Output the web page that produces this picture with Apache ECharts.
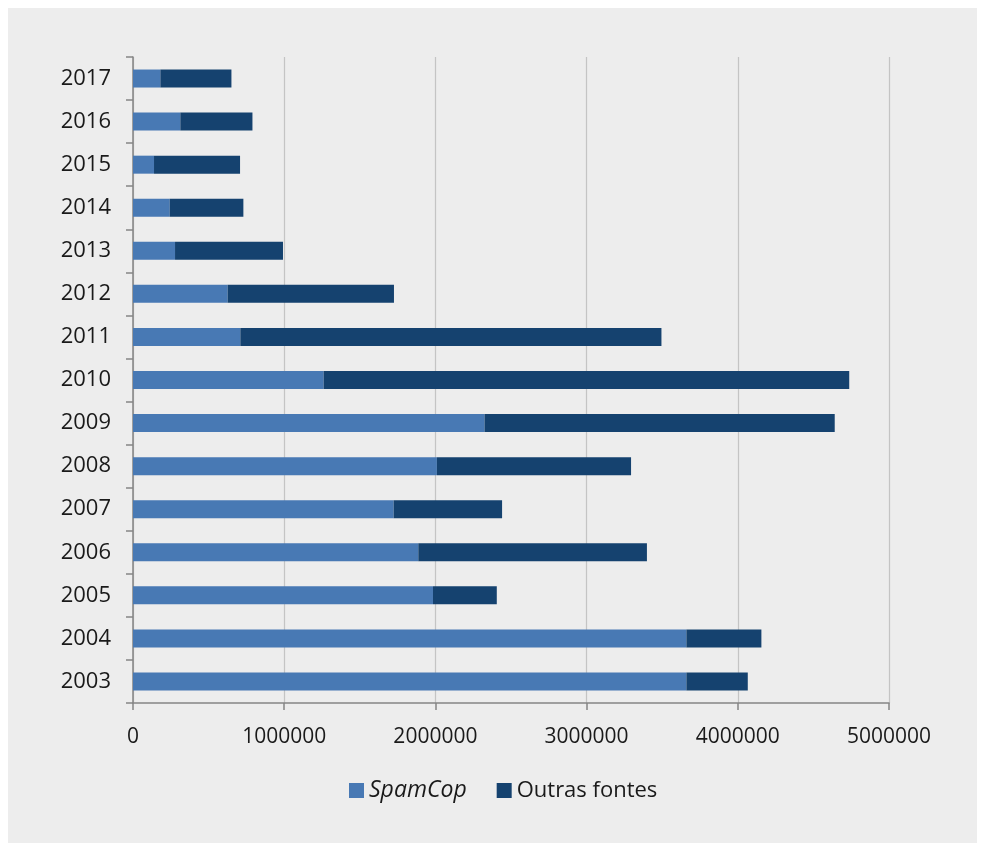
<!DOCTYPE html>
<html>
<head>
<meta charset="utf-8">
<title>SpamCop e outras fontes, 2003–2017</title>
<script src="https://cdn.jsdelivr.net/npm/echarts@6/dist/echarts.min.js"></script>
<style>
  html, body { margin: 0; padding: 0; background: #ffffff; }
  #chart { width: 983px; height: 847px; }
</style>
</head>
<body>
<div id="chart"></div>
<script>
// Years, bottom to top
const years = ['2003', '2004', '2005', '2006', '2007', '2008', '2009', '2010',
               '2011', '2012', '2013', '2014', '2015', '2016', '2017'];

// Reports from SpamCop
const spamCop = [3660000, 3660000, 1984000, 1887000, 1724000, 2010000, 2325000, 1261000,
                 710000, 626000, 278000, 243000, 139000, 313000, 181000];

// Reports from other sources
const outrasFontes = [406000, 496000, 422000, 1512000, 717000, 1284000, 2316000, 3476000,
                      2785000, 1100000, 714000, 487000, 569000, 477000, 470000];

// Value axis ticks
const xTicks = { min: 0, max: 5000000, step: 1000000 };

const seriesNames = ['SpamCop', 'Outras fontes'];
const colors = ['#4879b4', '#15426f'];

const chart = echarts.init(document.getElementById('chart'), null, { renderer: 'canvas' });

const font = '"Open Sans", "DejaVu Sans", sans-serif';

chart.setOption({
  backgroundColor: '#ffffff',
  animation: false,
  graphic: [{
    type: 'rect',
    z: -10,
    silent: true,
    shape: { x: 8, y: 8, width: 969, height: 835 },
    style: { fill: '#ededed' }
  }],
  grid: { left: 133, right: 94, top: 57, bottom: 144, containLabel: false },
  legend: {
    data: seriesNames,
    top: 779,
    left: 349,
    padding: 0,
    itemWidth: 15,
    itemHeight: 15,
    itemGap: 30,
    icon: 'rect',
    formatter: function (name) {
      return name === 'SpamCop' ? '{i|' + name + '}' : name;
    },
    textStyle: {
      fontFamily: font,
      fontSize: 22,
      color: '#1a1a1a',
      rich: { i: { fontStyle: 'italic', fontFamily: font, fontSize: 23, color: '#1a1a1a' } }
    }
  },
  xAxis: {
    type: 'value',
    min: xTicks.min,
    max: xTicks.max,
    interval: xTicks.step,
    axisLine: { show: true, lineStyle: { color: '#858585', width: 1.5 } },
    axisTick: { show: true, length: 7, lineStyle: { color: '#858585', width: 1.5 } },
    axisLabel: {
      margin: 24,
      fontFamily: font,
      fontSize: 21,
      color: '#1a1a1a',
      formatter: function (v) { return String(v); }
    },
    splitLine: { show: true, lineStyle: { color: '#c4c4c4', width: 1.2 } }
  },
  yAxis: {
    type: 'category',
    data: years,
    axisLine: { show: true, lineStyle: { color: '#858585', width: 1.5 } },
    axisTick: { show: true, length: 7, lineStyle: { color: '#858585', width: 1.5 } },
    axisLabel: {
      margin: 22,
      fontFamily: font,
      fontSize: 22,
      color: '#1a1a1a'
    },
    splitLine: { show: false }
  },
  series: [
    {
      name: seriesNames[0],
      type: 'bar',
      stack: 'total',
      data: spamCop,
      barWidth: 18,
      itemStyle: { color: colors[0] }
    },
    {
      name: seriesNames[1],
      type: 'bar',
      stack: 'total',
      data: outrasFontes,
      barWidth: 18,
      itemStyle: { color: colors[1] }
    }
  ]
});
</script>
</body>
</html>
